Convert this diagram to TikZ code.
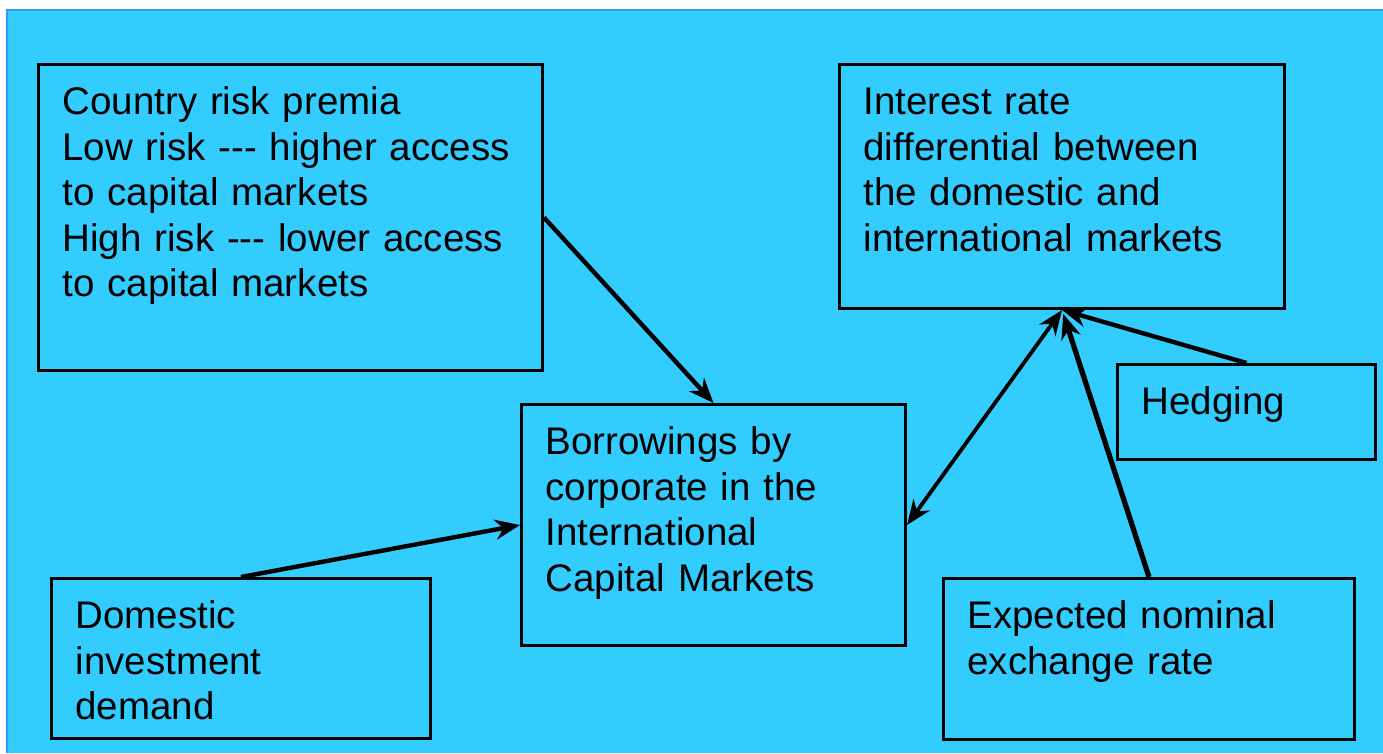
\documentclass[tikz,border=0pt]{standalone}
\usepackage{fontspec}
\setmainfont{Liberation Sans}[Ligatures=TeXOff]
\usepackage{tikz}
\usetikzlibrary{arrows.meta, positioning}
\definecolor{panel}{RGB}{51,204,255}
\definecolor{panelrim}{RGB}{51,153,255}
\tikzstyle{factor}=[shape=rectangle, draw=black, line width=3pt, anchor=north west, align=left, inner xsep=24pt, inner ysep=22pt, text height=28pt, font=\fontsize{38.5}{45.5}\selectfont]
\tikzstyle{link}=[line width=4.4pt]

\begin{document}
\begin{tikzpicture}[x=1pt, y=-1pt, >={Stealth[length=25pt,width=20pt]}]
\useasboundingbox (0,0) rectangle (1383,753);
% background panel
\fill[panel] (7,10) rectangle (1383,753);
\draw[panelrim, line width=2pt] (7,753) -- (7,10) -- (1383,10);
% factor boxes
\node[factor, text width=456pt, text depth=234pt] (risk) at (37,63) {Country risk premia\\Low risk --- higher access\\to capital markets\\High risk --- lower access\\to capital markets};
\node[factor, text width=397pt, text depth=172pt] (rate) at (838,63) {Interest rate\\differential between\\the domestic and\\international markets};
\node[factor, text width=336pt, text depth=169pt] (borrow) at (520,403) {Borrowings by\\corporate in the\\International\\Capital Markets};
\node[factor, text width=210pt, text depth=23pt] (hedge) at (1116,363) {Hedging};
\node[factor, text width=331pt, text depth=88pt] (demand) at (50,577) {Domestic\\investment\\demand};
\node[factor, text width=363pt, text depth=89pt] (fx) at (942,577) {Expected nominal\\exchange rate};
% arrows
\draw[link, ->] (risk.east) -- (borrow.north);
\draw[link, ->] (demand.north) -- (borrow.west);
\draw[link, line width=3.8pt, <->] (borrow.east) -- (rate.south);
\draw[link, ->] (hedge.north) -- (rate.south);
\draw[link, line width=5.2pt, ->, shorten >=4pt] (fx.north) -- (rate.south);
\end{tikzpicture}
\end{document}
